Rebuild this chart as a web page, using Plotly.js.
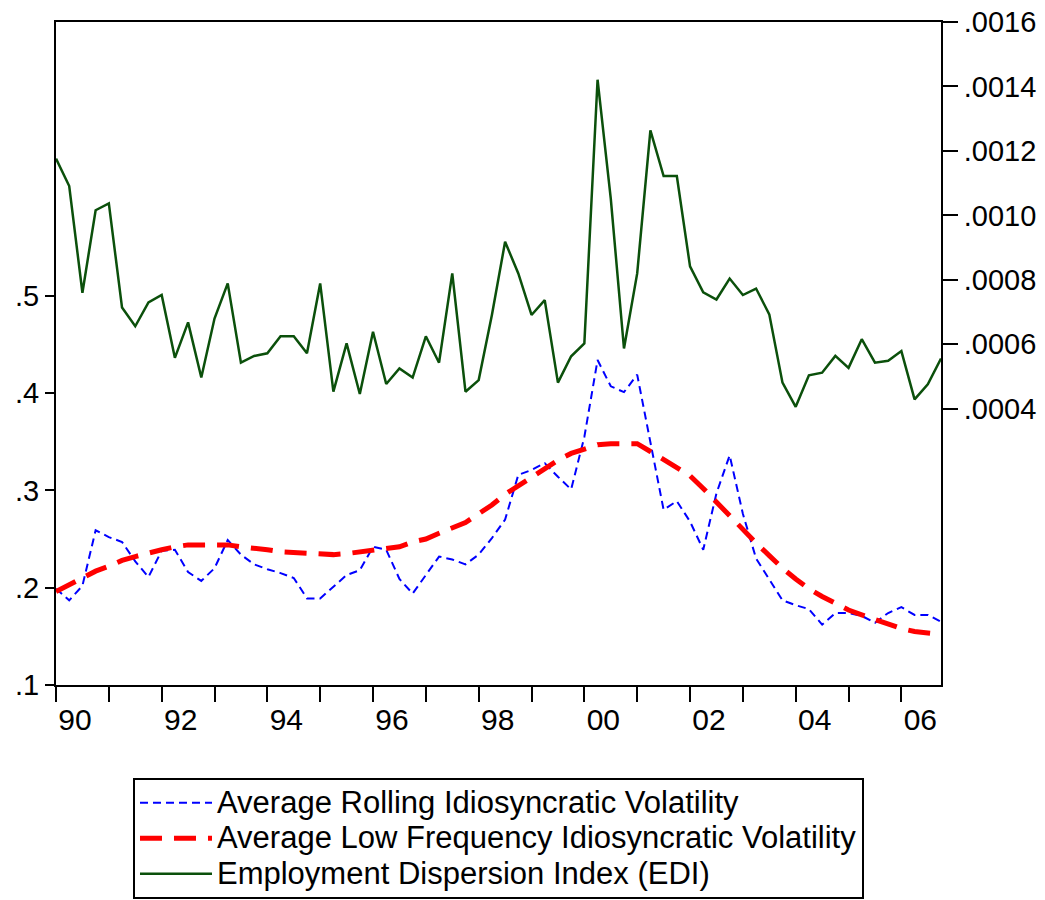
<!DOCTYPE html>
<html>
<head>
<meta charset="utf-8">
<script src="https://cdn.plot.ly/plotly-3.0.1.min.js"></script>
<style>html,body{margin:0;padding:0;background:#fff;}#chart{width:1045px;height:900px;}</style>
</head>
<body>
<div id="chart"></div>
<script>
// Quarterly observations 1990Q1 .. 2006Q4
const startYear = 1990;
const endYear = 2006;

const rollingVol = [
  0.199, 0.187, 0.202, 0.259, 0.252, 0.247, 0.227, 0.211,
  0.238, 0.239, 0.216, 0.207, 0.220, 0.249, 0.234, 0.224,
  0.219, 0.215, 0.210, 0.189, 0.189, 0.201, 0.213, 0.218,
  0.242, 0.239, 0.209, 0.194, 0.213, 0.232, 0.229, 0.224,
  0.234, 0.251, 0.270, 0.316, 0.321, 0.328, 0.314, 0.301,
  0.355, 0.434, 0.407, 0.401, 0.419, 0.348, 0.280, 0.289,
  0.268, 0.239, 0.297, 0.336, 0.276, 0.230, 0.208, 0.187,
  0.182, 0.178, 0.162, 0.174, 0.174, 0.171, 0.164, 0.174,
  0.180, 0.172, 0.172, 0.165
];

const lowFreqVol = [
  0.196, 0.203, 0.211, 0.217, 0.222, 0.228, 0.232, 0.236,
  0.239, 0.242, 0.244, 0.244, 0.244, 0.244, 0.242, 0.241,
  0.239, 0.237, 0.236, 0.235, 0.235, 0.234, 0.235, 0.237,
  0.239, 0.240, 0.242, 0.247, 0.250, 0.256, 0.261, 0.267,
  0.276, 0.285, 0.296, 0.305, 0.313, 0.323, 0.331, 0.338,
  0.343, 0.347, 0.348, 0.348, 0.348, 0.340, 0.332, 0.324,
  0.315, 0.302, 0.288, 0.273, 0.259, 0.246, 0.233, 0.220,
  0.209, 0.199, 0.191, 0.184, 0.177, 0.172, 0.167, 0.162,
  0.158, 0.155, 0.153, 0.152
];

const edi = [
  0.001176, 0.001091, 0.000760, 0.001016, 0.001037, 0.000714, 0.000656, 0.000730,
  0.000753, 0.000558, 0.000668, 0.000497, 0.000680, 0.000789, 0.000543, 0.000564,
  0.000572, 0.000625, 0.000625, 0.000572, 0.000789, 0.000453, 0.000603, 0.000446,
  0.000639, 0.000477, 0.000525, 0.000497, 0.000625, 0.000543, 0.000820, 0.000453,
  0.000489, 0.000691, 0.000918, 0.000820, 0.000691, 0.000737, 0.000481, 0.000563,
  0.000603, 0.001421, 0.001052, 0.000587, 0.000820, 0.001264, 0.001122, 0.001122,
  0.000842, 0.000761, 0.000739, 0.000804, 0.000753, 0.000773, 0.000693, 0.000481,
  0.000406, 0.000504, 0.000512, 0.000564, 0.000527, 0.000616, 0.000543, 0.000549,
  0.000579, 0.000429, 0.000476, 0.000556
];

const leftTickVals = [0.1, 0.2, 0.3, 0.4, 0.5];
const leftTickText = ['.1', '.2', '.3', '.4', '.5'];
const rightTickVals = [0.0004, 0.0006, 0.0008, 0.0010, 0.0012, 0.0014, 0.0016];
const rightTickText = ['.0004', '.0006', '.0008', '.0010', '.0012', '.0014', '.0016'];

const seriesNames = [
  'Average Rolling Idiosyncratic Volatility',
  'Average Low Frequency Idiosyncratic Volatility',
  'Employment Dispersion Index (EDI)'
];

// time axis positions (quarter starts)
const t = [];
for (let y = startYear; y <= endYear; y++) {
  for (let q = 0; q < 4; q++) t.push(y + q / 4);
}
const yearTicks = [];
const yearText = [];
for (let y = startYear; y <= endYear; y++) {
  yearTicks.push(y);
  yearText.push((y - startYear) % 2 === 0 ? String(y % 100).padStart(2, '0') : '');
}

const FONT = 'Liberation Sans, Arial, sans-serif';
// larger legend text while keeping the compact row spacing of the original
const legendName = s => '<span style="font-size:31px">' + s + '</span>';

const traces = [
  {
    x: t, y: rollingVol, name: legendName(seriesNames[0]), type: 'scatter', mode: 'lines',
    line: {color: '#0000ff', width: 2, dash: '8px,5px'}, yaxis: 'y'
  },
  {
    x: t, y: lowFreqVol, name: legendName(seriesNames[1]), type: 'scatter', mode: 'lines',
    line: {color: '#ff0000', width: 5, dash: '22px,12px'}, yaxis: 'y'
  },
  {
    x: t, y: edi, name: legendName(seriesNames[2]), type: 'scatter', mode: 'lines',
    line: {color: '#0b500b', width: 2.5}, yaxis: 'y2'
  }
];

const layout = {
  width: 1045, height: 900,
  margin: {l: 56, r: 104, t: 22, b: 215, autoexpand: false},
  paper_bgcolor: '#fff', plot_bgcolor: '#fff',
  font: {family: FONT, size: 29, color: '#000'},
  showlegend: true,
  xaxis: {
    range: [1990, 2006.75], showgrid: false, zeroline: false,
    showline: true, linecolor: '#000', linewidth: 2, mirror: true,
    tickmode: 'array', tickvals: yearTicks, ticktext: yearText,
    ticks: 'outside', ticklen: 15, tickwidth: 2, tickcolor: '#000',
    ticklabelshift: 19, ticklabelstandoff: -8,
    tickfont: {family: FONT, size: 30, color: '#000'}
  },
  yaxis: {
    range: [0.1, 0.7814], showgrid: false, zeroline: false,
    showline: true, linecolor: '#000', linewidth: 2,
    tickmode: 'array', tickvals: leftTickVals, ticktext: leftTickText,
    ticks: 'outside', ticklen: 9, tickwidth: 2, tickcolor: '#000',
    tickfont: {family: FONT, size: 29, color: '#000'}
  },
  yaxis2: {
    range: [-0.000457, 0.0016], overlaying: 'y', side: 'right',
    showgrid: false, zeroline: false,
    showline: true, linecolor: '#000', linewidth: 2,
    tickmode: 'array', tickvals: rightTickVals, ticktext: rightTickText,
    ticks: 'outside', ticklen: 15, tickwidth: 2, tickcolor: '#000',
    tickfont: {family: FONT, size: 29, color: '#000'}
  },
  legend: {
    x: 0.087, y: -0.1403, xanchor: 'left', yanchor: 'top',
    bordercolor: '#000', borderwidth: 2, bgcolor: '#fff',
    font: {family: FONT, size: 25, color: '#000'},
    itemwidth: 72, traceorder: 'normal'
  }
};

Plotly.newPlot('chart', traces, layout, {displayModeBar: false, staticPlot: true});
</script>
</body>
</html>
